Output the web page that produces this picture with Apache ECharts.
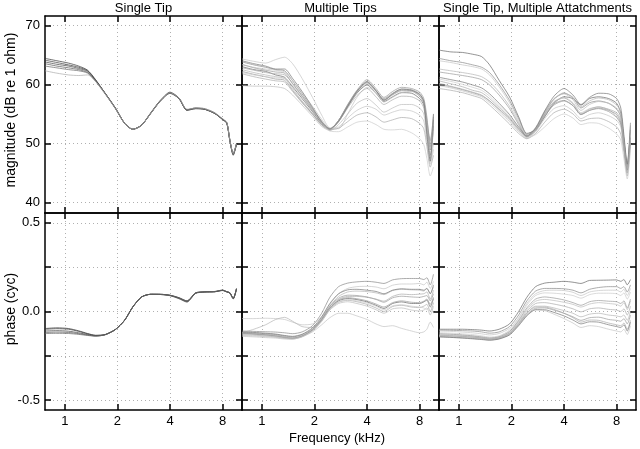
<!DOCTYPE html>
<html>
<head>
<meta charset="utf-8">
<script src="https://cdn.jsdelivr.net/npm/echarts@6/dist/echarts.min.js"></script>
<style>
  html, body { margin: 0; background: #fff; }
  #chart { width: 640px; height: 449px; }
</style>
</head>
<body>
<div id="chart"></div>
<script>
// frequencies (kHz) shared by every curve
const freqs = [0.77, 0.9, 1.05, 1.2, 1.35, 1.5, 1.7, 1.95, 2.2, 2.45, 2.75, 3.1, 3.5, 4.0, 4.5, 5.0, 5.6, 6.3, 7.2, 8.0, 8.45, 8.8, 9.2, 9.6]
const freqTicks = [1, 2, 4, 8]
const magTicks = [40, 50, 60, 70]
const phaseTicks = [-0.5, -0.25, 0, 0.25, 0.5]
const phaseLabels = [-0.5, 0, 0.5]
const panelTitles = ['Single Tip', 'Multiple Tips', 'Single Tip, Multiple Attatchments']

// magnitude, dB re 1 ohm
const magSingleTip = [
  [64.4, 64.0, 63.6, 63.1, 62.4, 60.8, 58.5, 55.9, 53.4, 52.4, 53.1, 55.1, 57.1, 58.5, 57.6, 55.7, 55.9, 55.8, 55.1, 54.1, 53.5, 50.5, 48.2, 49.9],
  [64.1, 63.7, 63.3, 62.9, 62.3, 60.7, 58.5, 55.9, 53.4, 52.4, 53.1, 55.1, 57.1, 58.6, 57.7, 55.7, 56.0, 55.8, 55.1, 54.1, 53.5, 50.6, 48.1, 49.9],
  [63.8, 63.4, 63.1, 62.7, 62.2, 60.7, 58.5, 56.0, 53.4, 52.4, 53.1, 55.1, 57.2, 58.6, 57.6, 55.6, 55.9, 55.8, 55.1, 54.0, 53.4, 50.4, 48.3, 50.0],
  [63.5, 63.1, 62.8, 62.5, 62.0, 60.6, 58.5, 56.0, 53.4, 52.4, 53.1, 55.2, 57.2, 58.7, 57.7, 55.7, 56.0, 55.9, 55.2, 54.1, 53.5, 50.5, 48.0, 49.8],
  [63.1, 62.8, 62.5, 62.3, 61.9, 60.5, 58.4, 55.9, 53.4, 52.4, 53.1, 55.1, 57.1, 58.5, 57.6, 55.6, 55.9, 55.8, 55.1, 54.1, 53.5, 50.5, 48.2, 49.9],
  [62.3, 61.9, 61.6, 61.5, 61.6, 60.5, 58.4, 55.9, 53.4, 52.4, 53.1, 55.1, 57.1, 58.6, 57.7, 55.8, 56.0, 55.9, 55.2, 54.2, 53.6, 50.6, 48.3, 50.0]
]
const magMultiTips = [
  [63.0, 62.5, 62.2, 61.6, 61.2, 59.6, 57.6, 55.4, 53.4, 52.4, 53.7, 56.2, 58.5, 59.9, 58.5, 57.1, 57.9, 58.6, 58.5, 57.6, 56.5, 52.8, 48.9, 54.0],
  [63.8, 63.3, 62.9, 62.5, 62.3, 60.6, 58.4, 55.9, 53.6, 52.4, 53.9, 56.5, 58.9, 60.3, 58.9, 57.4, 58.3, 59.0, 58.9, 58.0, 56.8, 52.5, 48.0, 53.0],
  [64.3, 63.9, 63.6, 64.2, 64.6, 63.5, 61.0, 57.8, 54.8, 52.6, 52.5, 55.0, 57.8, 59.5, 58.6, 57.0, 57.8, 58.6, 58.8, 58.0, 56.9, 53.0, 49.0, 52.0],
  [62.5, 62.0, 61.6, 61.3, 61.0, 59.3, 57.2, 55.1, 53.2, 52.3, 53.8, 56.3, 58.6, 60.1, 58.8, 57.3, 58.2, 58.9, 58.9, 58.2, 57.0, 53.5, 50.0, 55.0],
  [62.2, 61.7, 61.3, 60.9, 60.7, 59.0, 57.0, 55.0, 53.2, 52.4, 53.9, 56.4, 58.7, 60.4, 58.9, 57.6, 58.5, 59.2, 59.1, 58.4, 57.2, 54.0, 50.5, 54.5],
  [61.8, 61.3, 60.9, 60.6, 60.4, 58.8, 56.9, 54.9, 53.1, 52.3, 53.7, 56.0, 58.1, 59.3, 57.9, 56.6, 57.4, 58.0, 57.9, 57.2, 56.0, 52.0, 47.5, 52.5],
  [59.8, 59.7, 59.7, 59.6, 59.3, 58.2, 56.5, 54.6, 52.9, 52.2, 53.2, 55.0, 56.8, 57.6, 56.5, 55.3, 56.0, 56.6, 56.6, 56.0, 55.0, 51.5, 47.0, 50.0],
  [63.3, 62.9, 62.6, 62.4, 62.1, 60.6, 58.6, 56.3, 54.1, 52.6, 52.8, 54.3, 55.6, 56.3, 55.8, 54.8, 55.3, 55.7, 55.5, 54.8, 53.8, 50.5, 46.5, 49.0],
  [62.8, 62.4, 62.0, 61.8, 61.6, 60.2, 58.1, 55.8, 53.8, 52.3, 52.6, 53.7, 54.8, 55.2, 54.5, 53.6, 54.0, 54.4, 54.2, 53.4, 52.5, 49.5, 46.0, 48.0],
  [62.0, 61.6, 61.3, 61.1, 61.0, 59.8, 57.8, 55.6, 53.6, 52.1, 52.0, 52.8, 53.6, 53.8, 53.2, 52.4, 52.3, 52.4, 51.8, 50.8, 49.8, 47.5, 44.5, 46.0],
  [64.0, 63.5, 63.1, 62.6, 62.6, 61.0, 58.8, 56.1, 53.7, 52.5, 53.8, 56.3, 58.8, 60.5, 59.0, 57.3, 58.4, 59.2, 59.0, 58.3, 57.2, 51.5, 47.0, 55.0],
  [63.4, 62.8, 62.4, 62.1, 61.9, 60.1, 58.0, 55.6, 53.5, 52.5, 53.9, 56.6, 59.0, 60.8, 59.3, 57.8, 58.8, 59.5, 59.3, 58.7, 57.6, 54.5, 49.5, 53.5]
]
const magAttach = [
  [65.8, 65.5, 65.4, 65.1, 64.7, 63.3, 60.7, 57.9, 54.5, 51.7, 52.3, 54.5, 56.8, 57.9, 57.6, 56.5, 57.6, 57.9, 57.6, 56.8, 55.1, 50.6, 46.1, 52.3],
  [64.4, 64.0, 63.7, 63.3, 62.9, 62.0, 60.0, 57.3, 54.2, 51.5, 52.6, 55.3, 57.5, 58.5, 57.8, 56.0, 56.9, 57.2, 56.8, 55.8, 54.5, 50.5, 46.0, 51.0],
  [64.0, 63.7, 63.3, 63.0, 62.6, 61.6, 59.6, 56.9, 53.8, 51.3, 52.4, 55.0, 57.1, 57.8, 56.9, 55.2, 55.9, 56.2, 55.7, 54.6, 53.4, 49.5, 45.5, 50.0],
  [62.6, 62.3, 62.0, 61.7, 61.3, 60.4, 58.7, 56.3, 53.5, 51.2, 52.3, 55.1, 57.5, 58.6, 57.7, 56.2, 57.2, 57.7, 57.4, 56.5, 55.3, 51.0, 46.5, 52.0],
  [62.1, 61.8, 61.5, 61.2, 60.8, 59.9, 58.2, 55.9, 53.2, 51.1, 52.1, 54.6, 56.5, 57.2, 56.4, 54.9, 55.6, 55.9, 55.4, 54.4, 53.2, 49.5, 45.0, 50.5],
  [60.6, 60.1, 59.6, 59.0, 58.6, 57.6, 56.1, 54.4, 52.5, 51.2, 52.4, 55.0, 57.0, 57.7, 56.7, 55.0, 55.8, 56.2, 55.8, 55.2, 54.0, 50.0, 46.0, 53.0],
  [60.2, 59.7, 59.2, 58.7, 58.2, 57.2, 55.7, 54.0, 52.2, 51.1, 52.7, 55.5, 57.6, 58.4, 57.4, 55.6, 56.6, 57.1, 56.8, 56.0, 54.8, 50.5, 45.5, 52.5],
  [59.8, 59.4, 58.9, 58.4, 57.9, 56.9, 55.4, 53.7, 52.0, 50.9, 52.0, 54.2, 55.9, 56.4, 55.5, 54.2, 54.9, 55.2, 54.7, 53.9, 52.8, 49.0, 45.0, 51.5],
  [59.3, 59.0, 58.6, 58.1, 57.6, 56.5, 55.0, 53.3, 51.7, 50.8, 51.7, 53.6, 55.2, 55.8, 55.0, 53.8, 54.2, 54.3, 53.7, 52.8, 51.6, 48.5, 44.5, 50.0],
  [60.9, 60.5, 60.0, 59.5, 59.0, 58.0, 56.4, 54.6, 52.6, 51.0, 51.5, 52.8, 54.2, 55.0, 54.3, 53.2, 53.5, 53.4, 52.6, 51.6, 50.6, 47.5, 44.0, 49.0],
  [61.2, 60.8, 60.4, 59.9, 59.4, 58.4, 56.8, 54.9, 52.8, 51.3, 52.6, 55.5, 58.0, 59.3, 58.2, 56.6, 57.8, 58.5, 58.4, 57.6, 56.0, 51.5, 46.5, 53.5],
  [60.0, 59.6, 59.1, 58.6, 58.1, 57.2, 55.8, 54.2, 52.4, 51.2, 52.3, 54.8, 56.7, 57.3, 56.4, 54.9, 55.6, 56.0, 55.6, 54.9, 53.6, 49.5, 45.5, 51.0]
]

// phase, cycles
const phaseSingleTip = [
  [-0.096, -0.092, -0.096, -0.109, -0.124, -0.134, -0.130, -0.101, -0.049, 0.026, 0.082, 0.097, 0.097, 0.092, 0.078, 0.060, 0.105, 0.111, 0.112, 0.120, 0.111, 0.105, 0.073, 0.129],
  [-0.100, -0.097, -0.100, -0.112, -0.126, -0.135, -0.130, -0.101, -0.049, 0.026, 0.082, 0.097, 0.097, 0.091, 0.076, 0.058, 0.104, 0.110, 0.112, 0.119, 0.110, 0.104, 0.072, 0.128],
  [-0.110, -0.108, -0.111, -0.120, -0.130, -0.137, -0.131, -0.101, -0.049, 0.026, 0.082, 0.097, 0.096, 0.090, 0.074, 0.055, 0.103, 0.110, 0.111, 0.118, 0.112, 0.106, 0.075, 0.125],
  [-0.118, -0.116, -0.118, -0.125, -0.133, -0.138, -0.131, -0.101, -0.049, 0.026, 0.082, 0.097, 0.096, 0.089, 0.072, 0.053, 0.102, 0.109, 0.111, 0.119, 0.110, 0.103, 0.070, 0.127],
  [-0.124, -0.123, -0.124, -0.129, -0.135, -0.139, -0.131, -0.101, -0.049, 0.026, 0.082, 0.097, 0.097, 0.091, 0.077, 0.059, 0.104, 0.111, 0.113, 0.121, 0.112, 0.106, 0.074, 0.130]
]
const phaseMultiTips = [
  [-0.124, -0.128, -0.133, -0.139, -0.147, -0.152, -0.139, -0.105, -0.049, 0.017, 0.060, 0.073, 0.067, 0.054, 0.035, 0.017, 0.045, 0.054, 0.045, 0.045, 0.054, 0.064, 0.026, 0.073],
  [-0.110, -0.112, -0.114, -0.116, -0.120, -0.125, -0.115, -0.080, -0.010, 0.080, 0.140, 0.160, 0.167, 0.170, 0.165, 0.158, 0.178, 0.185, 0.186, 0.186, 0.180, 0.190, 0.150, 0.210],
  [-0.040, -0.040, -0.038, -0.040, -0.045, -0.060, -0.075, -0.070, -0.030, 0.040, 0.100, 0.130, 0.140, 0.142, 0.138, 0.128, 0.148, 0.155, 0.155, 0.158, 0.150, 0.165, 0.130, 0.170],
  [-0.120, -0.100, -0.075, -0.045, -0.033, -0.055, -0.085, -0.090, -0.040, 0.030, 0.085, 0.110, 0.115, 0.112, 0.105, 0.095, 0.118, 0.125, 0.122, 0.120, 0.115, 0.130, 0.100, 0.140],
  [-0.118, -0.121, -0.125, -0.130, -0.138, -0.143, -0.131, -0.098, -0.040, 0.030, 0.075, 0.092, 0.090, 0.082, 0.068, 0.052, 0.077, 0.086, 0.082, 0.080, 0.085, 0.090, 0.060, 0.100],
  [-0.130, -0.133, -0.138, -0.143, -0.150, -0.153, -0.141, -0.108, -0.053, 0.012, 0.052, 0.063, 0.055, 0.040, 0.020, 0.000, 0.028, 0.035, 0.025, 0.022, 0.030, 0.040, 0.000, 0.050],
  [-0.135, -0.138, -0.142, -0.146, -0.152, -0.155, -0.143, -0.110, -0.056, 0.008, 0.045, 0.055, 0.045, 0.030, 0.010, -0.010, 0.015, 0.020, 0.008, 0.003, 0.008, 0.020, -0.020, 0.030],
  [-0.140, -0.143, -0.147, -0.150, -0.155, -0.156, -0.142, -0.115, -0.075, -0.035, -0.010, -0.010, -0.025, -0.045, -0.070, -0.085, -0.080, -0.095, -0.110, -0.120, -0.115, -0.100, -0.060, -0.090],
  [-0.120, -0.124, -0.128, -0.133, -0.141, -0.147, -0.136, -0.102, -0.046, 0.022, 0.068, 0.085, 0.085, 0.080, 0.070, 0.058, 0.085, 0.098, 0.095, 0.098, 0.100, 0.110, 0.070, 0.120],
  [-0.127, -0.130, -0.134, -0.140, -0.146, -0.150, -0.140, -0.107, -0.051, 0.014, 0.055, 0.067, 0.060, 0.048, 0.030, 0.010, 0.032, 0.038, 0.030, 0.025, 0.020, 0.010, 0.035, -0.010],
  [-0.115, -0.118, -0.122, -0.127, -0.135, -0.140, -0.128, -0.092, -0.030, 0.045, 0.100, 0.122, 0.125, 0.120, 0.113, 0.100, 0.120, 0.128, 0.125, 0.125, 0.120, 0.130, 0.100, 0.150],
  [-0.122, -0.126, -0.131, -0.137, -0.145, -0.150, -0.138, -0.103, -0.046, 0.020, 0.064, 0.078, 0.072, 0.060, 0.042, 0.025, 0.050, 0.060, 0.052, 0.050, 0.058, 0.070, 0.040, 0.080]
]
const phaseAttach = [
  [-0.100, -0.100, -0.100, -0.102, -0.105, -0.110, -0.100, -0.070, 0.000, 0.080, 0.140, 0.160, 0.165, 0.170, 0.165, 0.158, 0.175, 0.176, 0.177, 0.178, 0.170, 0.180, 0.150, 0.180],
  [-0.105, -0.106, -0.108, -0.110, -0.115, -0.122, -0.115, -0.085, -0.020, 0.060, 0.115, 0.130, 0.130, 0.128, 0.120, 0.105, 0.125, 0.135, 0.140, 0.140, 0.130, 0.140, 0.110, 0.150],
  [-0.110, -0.112, -0.116, -0.120, -0.126, -0.132, -0.124, -0.095, -0.035, 0.045, 0.100, 0.118, 0.120, 0.118, 0.108, 0.090, 0.110, 0.118, 0.120, 0.120, 0.110, 0.125, 0.090, 0.130],
  [-0.140, -0.142, -0.145, -0.148, -0.152, -0.157, -0.150, -0.125, -0.070, -0.010, 0.030, 0.030, 0.020, 0.005, -0.010, -0.030, -0.015, -0.010, -0.020, -0.025, -0.030, -0.020, -0.050, 0.000],
  [-0.142, -0.145, -0.148, -0.152, -0.156, -0.160, -0.153, -0.130, -0.075, -0.018, 0.018, 0.020, 0.008, -0.010, -0.030, -0.050, -0.035, -0.032, -0.045, -0.050, -0.055, -0.040, -0.070, -0.020],
  [-0.136, -0.138, -0.141, -0.144, -0.149, -0.155, -0.148, -0.120, -0.062, 0.000, 0.045, 0.050, 0.042, 0.030, 0.015, -0.002, 0.015, 0.020, 0.012, 0.008, 0.000, 0.015, -0.020, 0.030],
  [-0.130, -0.132, -0.135, -0.139, -0.145, -0.151, -0.144, -0.115, -0.055, 0.010, 0.058, 0.068, 0.062, 0.052, 0.040, 0.025, 0.042, 0.050, 0.045, 0.040, 0.030, 0.050, 0.010, 0.060],
  [-0.138, -0.140, -0.144, -0.148, -0.153, -0.158, -0.152, -0.128, -0.075, -0.020, 0.010, 0.005, -0.015, -0.040, -0.065, -0.090, -0.080, -0.085, -0.100, -0.110, -0.115, -0.100, -0.130, -0.080],
  [-0.134, -0.136, -0.140, -0.144, -0.150, -0.156, -0.149, -0.123, -0.068, -0.010, 0.025, 0.025, 0.012, -0.010, -0.035, -0.060, -0.048, -0.050, -0.065, -0.075, -0.080, -0.065, -0.100, -0.050],
  [-0.120, -0.122, -0.126, -0.130, -0.137, -0.144, -0.137, -0.105, -0.040, 0.035, 0.090, 0.105, 0.103, 0.098, 0.090, 0.075, 0.095, 0.103, 0.103, 0.100, 0.090, 0.105, 0.070, 0.110],
  [-0.143, -0.146, -0.150, -0.154, -0.158, -0.162, -0.155, -0.132, -0.080, -0.025, 0.010, 0.010, -0.005, -0.025, -0.048, -0.070, -0.058, -0.060, -0.075, -0.085, -0.090, -0.075, -0.110, -0.060],
  [-0.125, -0.128, -0.132, -0.137, -0.143, -0.149, -0.142, -0.112, -0.050, 0.020, 0.070, 0.082, 0.076, 0.065, 0.050, 0.035, 0.055, 0.062, 0.058, 0.055, 0.045, 0.060, 0.020, 0.070]
]

// grey levels of the traces
const singleGreys = ['#333', '#3c3c3c', '#444', '#555', '#666', '#aaa']
const manyGreys = ['#666', '#888', '#c4c4c4', '#b4b4b4', '#999', '#aaa', '#bbb', '#c4c4c4', '#aaa', '#cccccc', '#777', '#999']

const FONT = 'Liberation Sans'
const PW = 197 // panel size
const xMin = -0.377 // log2(kHz)
const xMax = 3.368
const log2 = v => Math.log(v) / Math.LN2

const panels = [
  { curves: magSingleTip, row: 0, col: 0, greys: singleGreys },
  { curves: magMultiTips, row: 0, col: 1, greys: manyGreys },
  { curves: magAttach, row: 0, col: 2, greys: manyGreys },
  { curves: phaseSingleTip, row: 1, col: 0, greys: singleGreys },
  { curves: phaseMultiTips, row: 1, col: 1, greys: manyGreys },
  { curves: phaseAttach, row: 1, col: 2, greys: manyGreys }
]

const frame = { show: true, onZero: false, lineStyle: { color: '#000', width: 1.5 } }
const dotted = { show: true, lineStyle: { color: '#b0b0b0', width: 1, type: [1, 3] } }

const grid = []
const xAxis = []
const yAxis = []
const series = []

panels.forEach((p, i) => {
  grid.push({ left: 45 + PW * p.col, top: 16 + PW * p.row, width: PW, height: PW, outerBoundsMode: 'none' })
  const xTicks = freqTicks.map(log2)
  const xBase = {
    type: 'value', gridIndex: i, min: xMin, max: xMax,
    axisLine: frame,
    axisTick: { show: true, inside: true, length: 6, lineStyle: { color: '#000', width: 1.5 }, customValues: xTicks }
  }
  xAxis.push(Object.assign({}, xBase, {
    position: 'bottom',
    splitLine: Object.assign({}, dotted),
    axisLabel: {
      show: p.row === 1, customValues: xTicks, margin: 5,
      color: '#000', fontSize: 13, fontFamily: FONT,
      formatter: v => String(Math.round(Math.pow(2, v)))
    }
  }))
  xAxis.push(Object.assign({}, xBase, { position: 'top', splitLine: { show: false }, axisLabel: { show: false } }))

  const isMag = p.row === 0
  const yTicks = isMag ? magTicks : phaseTicks
  const yBase = {
    type: 'value', gridIndex: i,
    min: isMag ? 38.24 : -0.555,
    max: isMag ? 71.57 : 0.555,
    axisLine: frame,
    axisTick: { show: true, inside: true, length: 6, lineStyle: { color: '#000', width: 1.5 }, customValues: yTicks }
  }
  yAxis.push(Object.assign({}, yBase, {
    position: 'left',
    splitLine: Object.assign({}, dotted),
    axisLabel: {
      show: p.col === 0, customValues: isMag ? magTicks : phaseLabels, margin: 5,
      color: '#000', fontSize: 13, fontFamily: FONT,
      formatter: v => isMag ? String(v) : v.toFixed(1)
    }
  }))
  yAxis.push(Object.assign({}, yBase, { position: 'right', splitLine: { show: false }, axisLabel: { show: false } }))

  p.curves.forEach((c, k) => {
    series.push({
      type: 'line',
      xAxisIndex: 2 * i,
      yAxisIndex: 2 * i,
      data: c.map((v, j) => [log2(freqs[j]), v]),
      showSymbol: false,
      smooth: 0.25,
      silent: true,
      lineStyle: { color: p.greys[k % p.greys.length], width: 0.7 }
    })
  })
})

const graphic = panelTitles.map((t, c) => ({
  type: 'text', x: 45 + PW * c + PW / 2, y: 8,
  style: { text: t, fill: '#000', font: '13px ' + FONT, textAlign: 'center', textVerticalAlign: 'middle' }
}))
graphic.push(
  { type: 'text', x: 337, y: 438, style: { text: 'Frequency (kHz)', fill: '#000', font: '13px ' + FONT, textAlign: 'center', textVerticalAlign: 'middle' } },
  { type: 'text', x: 11, y: 110, rotation: Math.PI / 2, style: { text: 'magnitude (dB re 1 ohm)', fill: '#000', font: '14px ' + FONT, textAlign: 'center', textVerticalAlign: 'middle' } },
  { type: 'text', x: 11, y: 309, rotation: Math.PI / 2, style: { text: 'phase (cyc)', fill: '#000', font: '14px ' + FONT, textAlign: 'center', textVerticalAlign: 'middle' } }
)

const myChart = echarts.init(document.getElementById('chart'))
myChart.setOption({
  animation: false,
  backgroundColor: '#fff',
  grid,
  xAxis,
  yAxis,
  series,
  graphic
})
</script>
</body>
</html>
